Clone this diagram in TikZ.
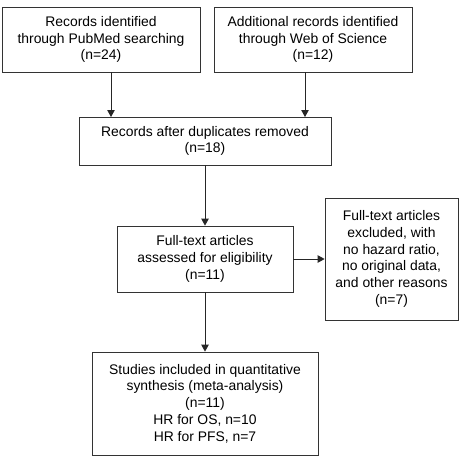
\documentclass[tikz,border=0pt]{standalone}
\usepackage{fontspec}
\setmainfont{Liberation Sans}
\usetikzlibrary{positioning,arrows.meta}

\tikzset{
  box/.style={draw=black!80, line width=0.8pt, rectangle, align=center, inner sep=0pt,
    font=\fontsize{13.9}{16.7}\selectfont},
  flow/.style={color=black!85, line width=0.8pt, -{Triangle[length=7pt,width=7.5pt]}}
}

\begin{document}
\begin{tikzpicture}[x=1pt, y=-1pt]

            \useasboundingbox (0,0) rectangle (462,456);

            \node[box, minimum width=198pt, minimum height=65pt]  (pubmed) at (101,39.5)   {Records identified\\through PubMed searching\\(n=24)};
            \node[box, minimum width=198pt, minimum height=65pt]  (wos)    at (313,39.5)   {Additional records identified\\through Web of Science\\(n=12)};
            \node[box, minimum width=252pt, minimum height=48pt]  (dup)    at (205,141)    {Records after duplicates removed\\(n=18)};
            \node[box, minimum width=176pt, minimum height=66pt]  (full)   at (205,259)    {Full-text articles\\assessed for eligibility\\(n=11)};
            \node[box, minimum width=133pt, minimum height=122pt] (excl)   at (391.5,259)  {Full-text articles\\excluded, with\\no hazard ratio,\\no original data,\\and other reasons\\(n=7)};
            \node[box, minimum width=226pt, minimum height=103pt] (incl)   at (205,403.5)  {Studies included in quantitative\\synthesis (meta-analysis)\\(n=11)\\HR for OS, n=10\\HR for PFS, n=7};

            \coordinate (in1) at (111,117);
            \coordinate (in2) at (305,117);

            \path[flow]
                (pubmed.south -| in1) edge (in1)
                (wos.south -| in2)    edge (in2)
                (dup)                 edge (full)
                (full)                edge (excl)
                (full)                edge (incl);

        \end{tikzpicture}
\end{document}
